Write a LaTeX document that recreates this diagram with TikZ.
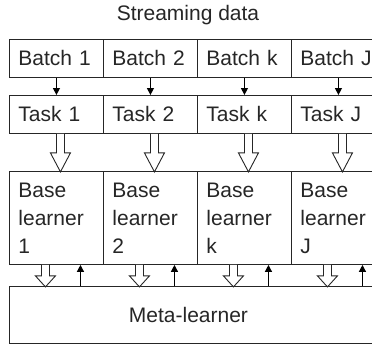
\documentclass[tikz,border=0pt]{standalone}
\usepackage{fontspec}
\setmainfont{Liberation Sans}
\usetikzlibrary{arrows.meta}

\tikzset{
    txt/.style={font=\fontsize{21}{28}\selectfont, text=black!85},
    cell/.style={txt, draw=black!85, line width=0.9pt, anchor=north west,
        minimum width=94pt, inner xsep=9pt, inner ysep=0pt, text width=76pt, align=left},
    metabox/.style={draw=black!85, line width=0.9pt, anchor=north west,
        minimum width=375pt, minimum height=57pt, inner sep=0pt},
    arr/.style={draw=black, line width=1.3pt, -{Triangle[length=7pt,width=7pt]}},
    pics/hollow/.style 2 args={code={
        \draw[black!85, line width=0.9pt, fill=white]
            (-4,0) -- (-4,#1) -- (-10,#1) -- (0,#2) -- (10,#1) -- (4,#1) -- (4,0);
    }},
}

\begin{document}
\begin{tikzpicture}[x=1pt, y=-1pt]
    \useasboundingbox (0,0) rectangle (372,345);
    \clip (0,0) rectangle (372,345);

    \node[txt] (stream) at (188,15) {Streaming data};

    \foreach \l [count=\i] in {1,2,k,J} {
        \node[cell, minimum height=38pt] (batch\i) at ({9+94*(\i-1)},39) {Batch \l};
        \node[cell, minimum height=38pt] (task\i) at ({9+94*(\i-1)},95) {Task \l};
        \node[cell, minimum height=93pt] (base\i) at ({9+94*(\i-1)},171) {Base\\learner\\\l};
    }

    \node[metabox, label={[txt, xshift=-8.5pt]center:Meta-learner}] (meta) at (9,286) {};

    \foreach \i in {1,...,4} {
        \draw[arr] (batch\i) -- (task\i);
        \pic at ([xshift=4pt]task\i.south) {hollow={19}{38}};
        \pic at ([xshift=-11pt]base\i.south) {hollow={11}{22}};
        \coordinate (up\i) at ([xshift=24pt]base\i.south);
        \draw[arr] (up\i |- meta.north) -- (up\i);
    }
\end{tikzpicture}
\end{document}
